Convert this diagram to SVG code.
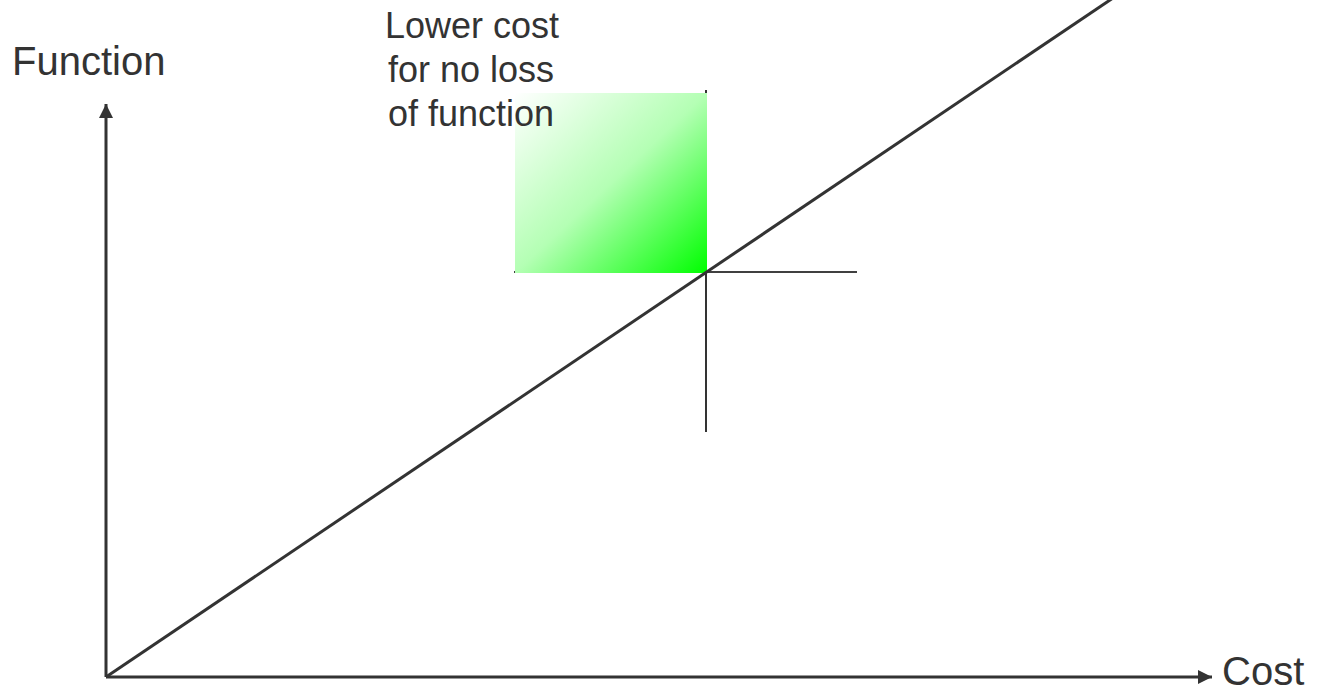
<svg xmlns="http://www.w3.org/2000/svg" width="1319" height="692" viewBox="0 0 1319 692">
<style>
.axis{stroke:#333;stroke-width:3;fill:none}
.cross{stroke:#000;stroke-width:1.6;fill:none}
.lbl{font-family:"Liberation Sans",Arial,sans-serif;fill:#333}
</style>
<defs>
<linearGradient id="g" x1="0" y1="0" x2="1" y2="1">
<stop offset="0" stop-color="#ffffff"/>
<stop offset="0.5" stop-color="#b4ffb4"/>
<stop offset="1" stop-color="#00ff00"/>
</linearGradient>
<marker id="ah" viewBox="0 0 10 10" refX="10" refY="5" markerWidth="14" markerHeight="14" markerUnits="userSpaceOnUse" orient="auto">
<path d="M0,0 L10,5 L0,10 Z" fill="#333"/>
</marker>
</defs>
<rect width="1319" height="692" fill="#fff"/>
<g id="crosshair">
<line class="cross" x1="706" y1="90" x2="706" y2="432"/>
<line class="cross" x1="514" y1="272" x2="857" y2="272"/>
</g>
<g id="region">
<rect x="515" y="93" width="192" height="180" fill="url(#g)"/>
<text class="lbl" font-size="36" text-anchor="middle" x="472" y="38">Lower cost</text>
<text class="lbl" font-size="36" text-anchor="middle" x="471" y="82">for no loss</text>
<text class="lbl" font-size="36" text-anchor="middle" x="471" y="126">of function</text>
</g>
<g id="connectors">
<line class="axis" x1="106" y1="677" x2="106" y2="104" marker-end="url(#ah)"/>
<line class="axis" x1="106" y1="677" x2="1212" y2="677" marker-end="url(#ah)"/>
<line class="axis" x1="106" y1="677" x2="1113" y2="-2"/>
</g>
<g id="labels">
<text class="lbl" font-size="40" x="12" y="75">Function</text>
<text class="lbl" font-size="40" x="1222" y="685">Cost</text>
</g>
</svg>
